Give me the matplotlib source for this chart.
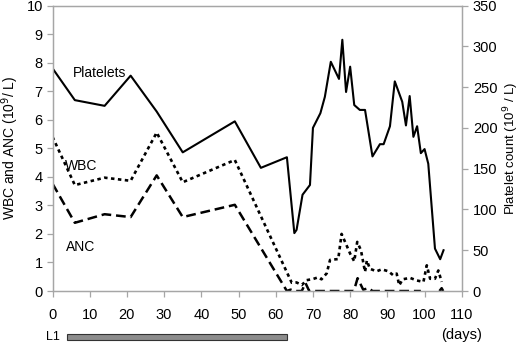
import matplotlib
matplotlib.use("Agg")
import matplotlib.pyplot as plt
from matplotlib.patches import Rectangle
from matplotlib.transforms import blended_transform_factory

plt.rcParams['font.family'] = ['Liberation Sans', 'DejaVu Sans']
plt.rcParams['lines.scale_dashes'] = False

# platelets, right axis (10^9/L)
plt_days = [0, 6, 14, 21, 28, 35, 49, 56, 63, 65, 65.6, 67.2, 69.2, 70, 72, 73.2,
            74.8, 77, 77.9, 78.9, 80, 81.1, 82.6, 84, 86, 88, 89, 90.7, 92, 94, 95,
            96, 97, 98, 99, 100, 101, 102.8, 104.2, 105.1]
plt_vals = [273, 234, 227, 264, 220, 170, 208, 151, 164, 71, 75, 118, 130, 200, 218, 238,
            281, 260, 308, 244, 275, 228, 222, 222, 165, 180, 180, 202, 257, 232, 203,
            239, 189, 202, 169, 174, 156, 52, 39, 50]

# WBC, left axis
wbc_days = [0, 6, 14, 21, 28, 35, 42, 49, 64.3, 65.6, 67, 68.3, 70, 71.4, 72.3, 73.7,
            74.6, 76.8, 77.7, 80, 81.1, 81.9, 82.9, 84, 84.5, 85.3, 87.1, 88.5, 90.3,
            91.6, 92.5, 93.2, 94.1, 96.1, 97.9, 99.7, 100.6, 101.5, 102.8, 103.7, 104.6]
wbc_vals = [5.4, 3.71, 3.97, 3.86, 5.55, 3.81, 4.2, 4.59, 0.29, 0.30, 0.21, 0.38, 0.42,
            0.48, 0.41, 0.62, 1.09, 1.12, 2.0, 1.31, 1.04, 1.72, 1.43, 0.67, 1.07, 0.78,
            0.69, 0.76, 0.69, 0.55, 0.61, 0.2, 0.41, 0.46, 0.37, 0.32, 0.9, 0.43, 0.43,
            0.72, 0.32]

# ANC, left axis (nan = no measurement)
anc_days = [0, 6, 14, 21, 28, 35, 49, 63, 64, 65, 67, 68, 69, 81, 82, 83.5, 85, 86, 99,
            101, 104, 104.6, 105]
anc_vals = [3.76, 2.39, 2.69, 2.59, 4.05, 2.59, 3.02, 0, 0.05, 0, 0, 0.28, 0, 0, 0.45,
            0.05, 0.1, 0, 0, float('nan'), 0, 0.1, 0]

# treatment phase bar
phase_label = 'L1'
phase_span = [4, 63]

grey = '#a6a6a6'

fig = plt.figure(figsize=(5.2, 3.44), dpi=100)
ax = fig.add_axes([0.101, 0.154, 0.787, 0.83])
ax2 = ax.twinx()

ax.plot(wbc_days, wbc_vals, color='black', lw=1.9, dashes=(2.5, 2.5))
ax.plot(anc_days, anc_vals, color='black', lw=1.8, dashes=(7, 3.5))
ax2.plot(plt_days, plt_vals, color='black', lw=1.5)

ax.set_xlim(0, 110)
ax.set_ylim(0, 10)
ax2.set_ylim(0, 350)
ax.set_xticks(range(0, 111, 10))
ax.set_yticks(range(0, 11))
ax2.set_yticks(range(0, 351, 50))

for a in (ax, ax2):
    for s in a.spines.values():
        s.set_color(grey)
        s.set_linewidth(0.9)
    a.tick_params(colors=grey, labelcolor='black', labelsize=10.5, length=4, width=0.9)
ax.tick_params(axis='x', pad=8)
ax.tick_params(axis='y', pad=3)
ax2.tick_params(axis='y', pad=4)

ax.set_ylabel('WBC and ANC (10$^9$/ L)', fontsize=10, labelpad=4)
ax2.set_ylabel('Platelet count (10$^{9}$ / L)', fontsize=9.5, labelpad=3)

ax.text(5.5, 7.64, 'Platelets', fontsize=10, va='center')
ax.text(3.3, 4.38, 'WBC', fontsize=10, va='center')
ax.text(3.6, 1.54, 'ANC', fontsize=10, va='center')

tr = blended_transform_factory(ax.transData, fig.transFigure)
ax.add_patch(Rectangle((phase_span[0], 0.011), phase_span[1] - phase_span[0], 0.019,
                       transform=tr, clip_on=False, facecolor='#8c8c8c',
                       edgecolor='#333333', lw=0.8))
ax.text(-1.7, 0.021, phase_label, transform=tr, fontsize=9, va='center', ha='left')
ax.text(110, 0.025, '(days)', transform=tr, fontsize=10.5, va='center', ha='center')

fig.savefig('out.png', dpi=100)
